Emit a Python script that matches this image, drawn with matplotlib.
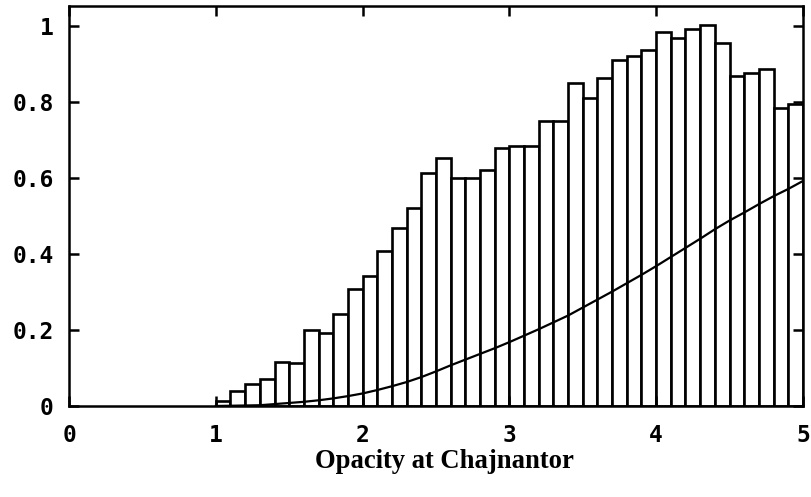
import numpy as np
import matplotlib
matplotlib.use("Agg")
import matplotlib.pyplot as plt

# histogram of opacity, bins of 0.1 starting at 1.0 (normalised to peak)
bin_left = np.arange(1.0, 5.0, 0.1)
heights = [0.012, 0.039, 0.059, 0.070, 0.117, 0.113, 0.201, 0.191, 0.243, 0.307,
           0.343, 0.407, 0.469, 0.522, 0.612, 0.653, 0.600, 0.600, 0.622, 0.679,
           0.685, 0.685, 0.751, 0.749, 0.849, 0.811, 0.864, 0.910, 0.922, 0.938,
           0.985, 0.969, 0.991, 1.002, 0.954, 0.868, 0.875, 0.886, 0.785, 0.795]

# cumulative curve
cum_x = [1.0, 1.3, 1.4, 1.5, 1.6, 1.7, 1.8, 1.9, 2.0, 2.1, 2.2, 2.3, 2.4, 2.5,
         2.6, 2.7, 2.8, 2.9, 3.0, 3.1, 3.2, 3.3, 3.4, 3.5, 3.6, 3.7, 3.8, 3.9,
         4.0, 4.1, 4.2, 4.3, 4.4, 4.5, 4.6, 4.7, 4.8, 4.9, 5.0]
cum_y = [0.0, 0.002, 0.005, 0.008, 0.011, 0.015, 0.020, 0.026, 0.033, 0.042,
         0.052, 0.063, 0.076, 0.091, 0.107, 0.122, 0.137, 0.152, 0.168, 0.185,
         0.202, 0.220, 0.238, 0.259, 0.280, 0.301, 0.323, 0.345, 0.368, 0.392,
         0.416, 0.440, 0.465, 0.488, 0.509, 0.531, 0.552, 0.571, 0.592]

fig = plt.figure(figsize=(8.11, 4.97), dpi=100)
ax = fig.add_axes([0.0851, 0.1831, 0.9049, 0.8049])

ax.bar(bin_left, heights, width=0.1, align='edge', facecolor='white',
       edgecolor='black', linewidth=1.9)
ax.plot(cum_x, cum_y, color='black', linewidth=1.6)

ax.set_xlim(0, 5)
ax.set_ylim(0, 1.0526)
ax.set_xticks([0, 1, 2, 3, 4, 5])
ax.set_yticks([0, 0.2, 0.4, 0.6, 0.8, 1.0])
ax.set_xticklabels(['0', '1', '2', '3', '4', '5'])
ax.set_yticklabels(['0', '0.2', '0.4', '0.6', '0.8', '1'])

for s in ax.spines.values():
    s.set_linewidth(1.8)
ax.tick_params(direction='in', length=7, width=1.8, top=True, right=True,
               labelsize=16.5)
ax.tick_params(axis='x', pad=13)
ax.tick_params(axis='y', pad=11)
for lab in ax.get_xticklabels() + ax.get_yticklabels():
    lab.set_family('DejaVu Sans Mono')
    lab.set_weight('bold')

ax.set_xlabel('Opacity at Chajnantor', family='Liberation Serif',
              weight='bold', fontsize=19.2)
ax.xaxis.set_label_coords(0.5116, -0.107)

fig.savefig('out.png', dpi=100)
